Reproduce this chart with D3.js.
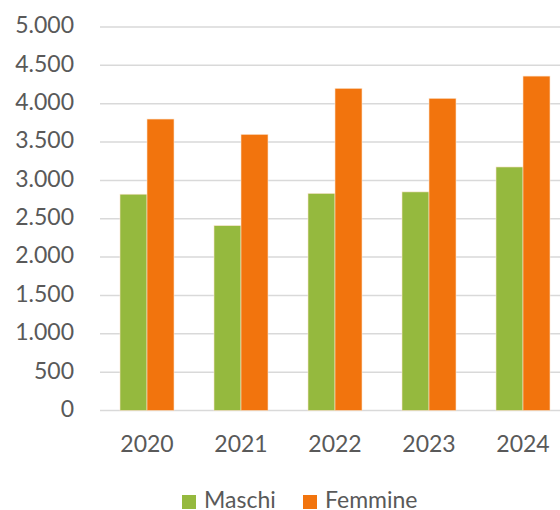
<!DOCTYPE html>
<html><head><meta charset="utf-8">
<script src="https://cdn.jsdelivr.net/npm/d3@7"></script>
<style>body{margin:0;background:#fff;overflow:hidden}svg{display:block}text{font-family:Lato,"Open Sans",sans-serif;fill:#595959}</style>
</head><body>
<script>
const categories = ["2020","2021","2022","2023","2024"];
const maschi = [2820, 2410, 2830, 2850, 3175];
const femmine = [3800, 3600, 4200, 4070, 4360];
const seriesNames = ["Maschi","Femmine"];
const seriesColors = ["#95B93E","#F2740D"];
const yTicks = [0,500,1000,1500,2000,2500,3000,3500,4000,4500,5000];

const W=560,H=510,FS=23;
const svg=d3.select("body").append("svg").attr("width",W).attr("height",H);
const x=d3.scaleBand().domain(categories).range([100,570]).paddingInner(0).paddingOuter(0);
const xs=d3.scaleBand().domain(seriesNames).range([20,74]);
const y=d3.scaleLinear().domain([0,5000]).range([410.5,27]);
const fmt=d3.formatLocale({decimal:",",thousands:".",grouping:[3],currency:["€",""]}).format(",.0f");

svg.append("g").selectAll("line").data(yTicks).join("line")
 .attr("x1",100).attr("x2",560).attr("y1",d=>y(d)).attr("y2",d=>y(d))
 .attr("stroke","#d9d9d9").attr("stroke-width",1.5);

const yAxis=d3.axisLeft(y).tickValues(yTicks).tickFormat(fmt).tickSize(0).tickPadding(0);
const ga=svg.append("g").attr("transform","translate(74,-2.2)").call(yAxis);
ga.select(".domain").remove();
ga.selectAll("text").attr("font-size",FS).attr("dy","0.35em").style("font-family","Lato, 'Open Sans', sans-serif").attr("fill","#595959");

const data=[maschi,femmine];
const g=svg.append("g");
seriesNames.forEach((s,i)=>{
  g.selectAll(".b"+i).data(categories).join("rect")
   .attr("x",c=>x(c)+xs(s)).attr("width",xs.bandwidth())
   .attr("y",(c,j)=>y(data[i][j])).attr("height",(c,j)=>y(0)-y(data[i][j]))
   .attr("fill",seriesColors[i]).attr("stroke","#fbe3cc").attr("stroke-width",0.6);
});

const xAxis=d3.axisBottom(x).tickSize(0).tickPadding(0);
const gx=svg.append("g").attr("transform","translate(0,410.5)").call(xAxis);
gx.select(".domain").remove();
gx.selectAll("text").attr("font-size",FS).attr("y",33.5).attr("dy","0.35em").style("font-family","Lato, 'Open Sans', sans-serif").attr("fill","#595959");

const leg=[{n:"Maschi",c:seriesColors[0],x:182},{n:"Femmine",c:seriesColors[1],x:303}];
const lg=svg.append("g");
leg.forEach(l=>{
  lg.append("rect").attr("x",l.x).attr("y",495).attr("width",14).attr("height",14).attr("fill",l.c);
  lg.append("text").attr("x",l.x+22).attr("y",507.5).attr("font-size",FS).text(l.n);
});
</script>
</body></html>
